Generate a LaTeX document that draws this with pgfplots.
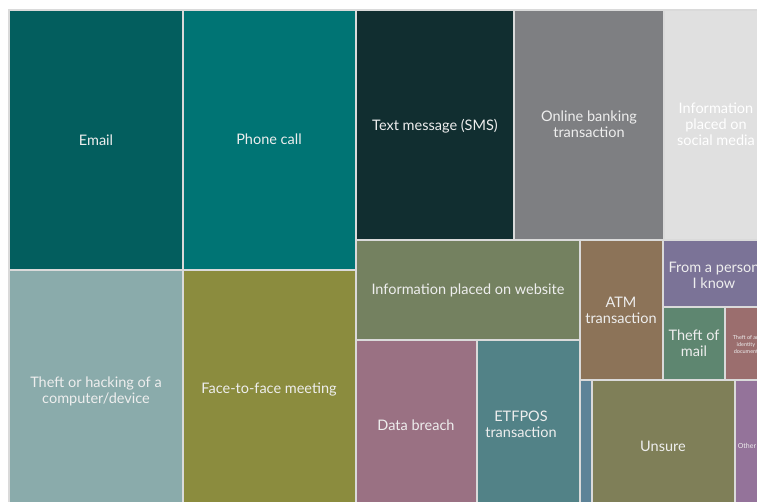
\documentclass[border=0pt]{standalone}
\usepackage{pgfplots}
\pgfplotsset{compat=1.18}
\usepackage{fontspec}
\setmainfont{Lato}
\definecolor{cEmail}{HTML}{035E5E}
\definecolor{cPhone}{HTML}{007474}
\definecolor{cSMS}{HTML}{112E30}
\definecolor{cBank}{HTML}{7E7F82}
\definecolor{cSocial}{HTML}{E0E0E0}
\definecolor{cHack}{HTML}{8AABAB}
\definecolor{cFace}{HTML}{8B8C3E}
\definecolor{cWeb}{HTML}{748160}
\definecolor{cBreach}{HTML}{9A7183}
\definecolor{cEtf}{HTML}{528287}
\definecolor{cATM}{HTML}{8C7358}
\definecolor{cPerson}{HTML}{7B7397}
\definecolor{cMail}{HTML}{5E8670}
\definecolor{cIdent}{HTML}{9B6E6E}
\definecolor{cBlue}{HTML}{5D8398}
\definecolor{cUnsure}{HTML}{7F7F58}
\definecolor{cOther}{HTML}{94739A}
\definecolor{bord}{HTML}{DADADA}
\definecolor{lab}{HTML}{EEEEEE}
\tikzset{lbl/.style={align=center, text=lab, font=\fontsize{14.5}{16}\selectfont, inner sep=0pt}}
\newcommand{\rect}[5]{\addplot[fill=#5, draw=bord, line width=1.1pt, mark=none] coordinates {(#1,#2) (#3,#2) (#3,#4) (#1,#4)} -- cycle;}
\begin{document}
\begin{tikzpicture}
\begin{axis}[
  x=1pt, y=1pt, hide axis, clip=true,
  xmin=0, xmax=757, ymin=0, ymax=501, y dir=reverse,
]
\rect{9}{10}{183}{270}{cEmail}
\rect{183}{10}{356}{270}{cPhone}
\rect{9}{270}{183}{510}{cHack}
\rect{183}{270}{356}{510}{cFace}
\rect{356}{10}{514}{240}{cSMS}
\rect{514}{10}{664}{240}{cBank}
\rect{664}{10}{770}{240}{cSocial}
\rect{356}{240}{580}{340}{cWeb}
\rect{356}{340}{477}{510}{cBreach}
\rect{477}{340}{580}{510}{cEtf}
\rect{580}{240}{663}{380}{cATM}
\rect{663}{240}{770}{307}{cPerson}
\rect{663}{307}{725}{380}{cMail}
\rect{725}{307}{770}{380}{cIdent}
\rect{580}{380}{592}{510}{cBlue}
\rect{592}{380}{735}{510}{cUnsure}
\rect{735}{380}{770}{510}{cOther}
\node[lbl] at (axis cs:96,140) {Email};
\node[lbl] at (axis cs:269,139) {Phone call};
\node[lbl] at (axis cs:435,126) {Text message (SMS)};
\node[lbl] at (axis cs:589,124) {Online banking\\transaction};
\node[lbl,text=white] at (axis cs:716,124) {Information\\placed on\\social media};
\node[lbl] at (axis cs:468,290) {Information placed on website};
\node[lbl] at (axis cs:621,310) {ATM\\transaction};
\node[lbl] at (axis cs:714,275) {From a person\\I know};
\node[lbl] at (axis cs:694,343) {Theft of\\mail};
\node[lbl,font=\fontsize{5.5}{7}\selectfont] at (axis cs:746,344) {Theft of an\\identity\\document};
\node[lbl] at (axis cs:96,391) {Theft or hacking of a\\computer/device};
\node[lbl] at (axis cs:269,390) {Face-to-face meeting};
\node[lbl] at (axis cs:416,425) {Data breach};
\node[lbl] at (axis cs:521,424) {ETFPOS\\transaction};
\node[lbl] at (axis cs:663,446) {Unsure};
\node[lbl,font=\fontsize{7}{8}\selectfont] at (axis cs:747,446) {Other};
\end{axis}
\pgfresetboundingbox
\useasboundingbox (current axis.south west) rectangle (current axis.north east);
\end{tikzpicture}
\end{document}
